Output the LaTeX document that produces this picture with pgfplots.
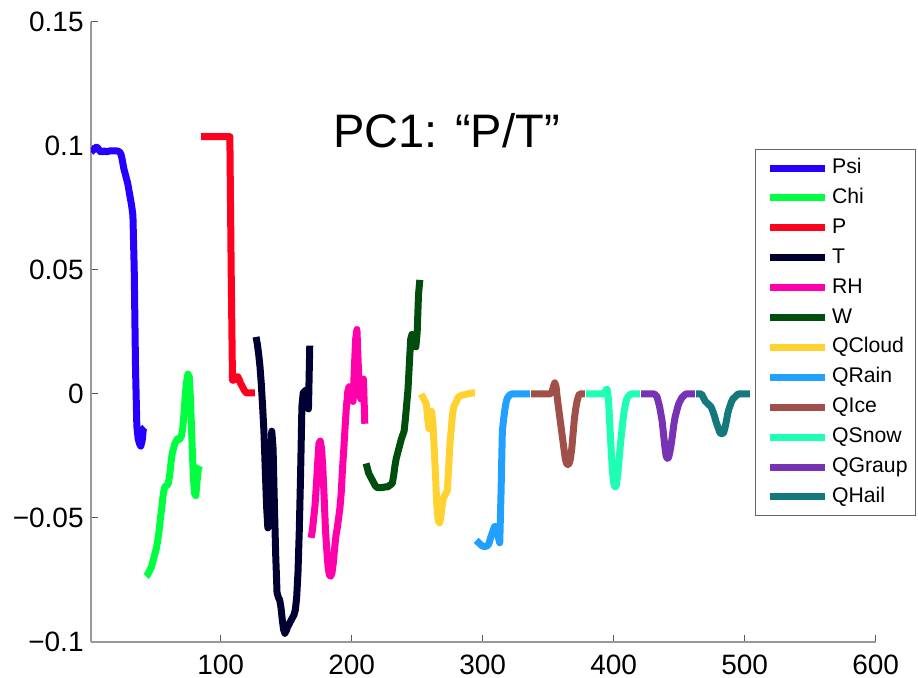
\documentclass[border=0pt]{standalone}
\usepackage{fontspec}
\setmainfont{Liberation Sans}
\usepackage{pgfplots}
\pgfplotsset{compat=1.18}
\definecolor{cPsi}{RGB}{38,0,255}
\definecolor{cChi}{RGB}{0,255,64}
\definecolor{cP}{RGB}{255,0,30}
\definecolor{cT}{RGB}{0,0,51}
\definecolor{cRH}{RGB}{255,0,170}
\definecolor{cW}{RGB}{0,77,13}
\definecolor{cQC}{RGB}{255,210,50}
\definecolor{cQR}{RGB}{33,160,255}
\definecolor{cQI}{RGB}{160,80,75}
\definecolor{cQS}{RGB}{30,255,180}
\definecolor{cQG}{RGB}{120,50,180}
\definecolor{cQH}{RGB}{20,120,125}
\begin{document}
\begin{tikzpicture}
\begin{axis}[
  at={(0pt,0pt)}, anchor=south west,
  scale only axis, width=392.35pt, height=310pt,
  xmin=1, xmax=600, ymin=-0.1, ymax=0.15,
  axis x line*=bottom, axis y line*=left,
  axis line style={draw=black!40, line width=0.6pt},
  tick align=inside, major tick length=3.5pt,
  tick style={draw=black!65, line width=0.5pt},
  xtick={100,200,300,400,500,600},
  xticklabels={100,200,300,400,500,600},
  ytick={-0.1,-0.05,0,0.05,0.1,0.15},
  yticklabels={−0.1,−0.05,0,0.05,0.1,0.15},
  scaled y ticks=false,
  x tick label style={font=\fontsize{14}{16}\selectfont, inner sep=0pt, anchor=north, yshift=-6.5pt},
  y tick label style={font=\fontsize{14}{16}\selectfont, inner sep=0pt, anchor=east, xshift=-3.5pt},
  every axis plot/.append style={line width=3.5pt, line join=round, line cap=butt},
  legend cell align=left,
  legend image code/.code={\path (0pt,0pt); \draw[#1, line width=3.5pt] (3.5pt,0pt) -- (31pt,0pt);},
  legend style={at={(1.0514,0.795)}, anchor=north east, draw=black!60, line width=0.5pt,
    font=\fontsize{10.6}{13}\selectfont, inner xsep=2pt, inner ysep=2pt, row sep=0.45pt,
    nodes={text height=8pt, text depth=2.5pt, inner sep=2pt}},
]
% Psi
\addplot[color=cPsi] coordinates {
(1,0.0975)(2,0.098)(3,0.0985)(4,0.099)(5,0.0995)(6,0.0993)(7,0.0985)(8,0.0978)(9,0.0975)(10,0.0978)
(11,0.098)(12,0.0978)(13,0.0977)(14,0.0978)(15,0.098)(16,0.098)(17,0.098)(18,0.098)(19,0.098)(20,0.098)
(21,0.098)(22,0.0978)(23,0.0975)(24,0.0965)(25,0.094)(26,0.091)(27,0.089)(28,0.087)(29,0.085)(30,0.082)
(31,0.079)(32,0.076)(33,0.072)(34,0.05)(35,0.01)(36,-0.013)(37,-0.018)(38,-0.02)(39,-0.021)(40,-0.019)
(41,-0.014)(42,-0.0135)};
\addlegendentry{Psi}
% Chi
\addplot[color=cChi] coordinates {
(43,-0.0735)(44,-0.073)(45,-0.072)(46,-0.071)(47,-0.070)(48,-0.068)(49,-0.066)(50,-0.064)(51,-0.062)(52,-0.059)
(53,-0.055)(54,-0.050)(55,-0.046)(56,-0.041)(57,-0.038)(58,-0.037)(59,-0.037)(60,-0.036)(61,-0.033)(62,-0.028)
(63,-0.024)(64,-0.022)(65,-0.020)(66,-0.019)(67,-0.018)(68,-0.0185)(69,-0.018)(70,-0.017)(71,-0.014)(72,-0.008)
(73,0.000)(74,0.005)(75,0.008)(76,0.007)(77,-0.003)(78,-0.018)(79,-0.032)(80,-0.040)(81,-0.041)(82,-0.035)
(83,-0.030)(84,-0.029)};
\addlegendentry{Chi}
% P
\addplot[color=cP] coordinates {
(85,0.1038)(90,0.1038)(95,0.1038)(100,0.1038)(105,0.1038)(107,0.1038)(108,0.05)(109,0.0056)(110,0.0055)
(111,0.006)(112,0.0068)(113,0.007)(114,0.006)(115,0.0045)(116,0.0035)(117,0.0025)(118,0.0015)(119,0.0008)
(120,0.0004)(122,0.0004)(124,0.0004)(126,0.0004)};
\addlegendentry{P}
% T
\addplot[color=cT] coordinates {
(127,0.023)(128,0.020)(129,0.016)(130,0.011)(131,0.004)(132,-0.005)(133,-0.015)(134,-0.030)(135,-0.045)(136,-0.054)
(137,-0.052)(138,-0.030)(139,-0.015)(140,-0.022)(141,-0.045)(142,-0.065)(143,-0.080)(144,-0.082)(145,-0.083)(146,-0.086)
(147,-0.091)(148,-0.095)(149,-0.0965)(150,-0.0955)(151,-0.094)(152,-0.093)(153,-0.092)(154,-0.091)(155,-0.090)(156,-0.089)
(157,-0.087)(158,-0.082)(159,-0.072)(160,-0.055)(161,-0.032)(162,-0.005)(163,0.0005)(164,0.001)(165,0.0015)(166,-0.004)
(167,-0.006)(168,0.0195)};
\addlegendentry{T}
% RH
\addplot[color=cRH] coordinates {
(169,-0.058)(170,-0.055)(171,-0.050)(172,-0.045)(173,-0.037)(174,-0.028)(175,-0.020)(176,-0.019)(177,-0.022)(178,-0.030)
(179,-0.042)(180,-0.055)(181,-0.063)(182,-0.070)(183,-0.073)(184,-0.0735)(185,-0.072)(186,-0.068)(187,-0.062)(188,-0.057)
(189,-0.054)(190,-0.050)(191,-0.046)(192,-0.040)(193,-0.030)(194,-0.022)(195,-0.013)(196,-0.005)(197,0.001)(198,0.003)
(199,0.0025)(200,0.001)(201,-0.003)(202,0.010)(203,0.022)(204,0.026)(205,0.012)(206,0.000)(207,-0.002)(208,0.004)
(209,0.006)(210,-0.012)};
\addlegendentry{RH}
% W
\addplot[color=cW] coordinates {
(211,-0.028)(212,-0.030)(213,-0.032)(214,-0.033)(215,-0.034)(216,-0.035)(217,-0.036)(218,-0.037)(219,-0.0375)(220,-0.0378)
(221,-0.0378)(222,-0.0378)(223,-0.0377)(224,-0.0377)(225,-0.0375)(226,-0.0375)(227,-0.0375)(228,-0.0373)(229,-0.0368)(230,-0.0365)
(231,-0.036)(232,-0.033)(233,-0.029)(234,-0.026)(235,-0.024)(236,-0.022)(237,-0.020)(238,-0.018)(239,-0.0165)(240,-0.015)
(241,-0.010)(242,-0.004)(243,0.002)(244,0.012)(245,0.022)(246,0.024)(247,0.023)(248,0.021)(249,0.019)(250,0.025)
(251,0.040)(252,0.046)};
\addlegendentry{W}
% QCloud
\addplot[color=cQC] coordinates {
(253,0.000)(254,-0.001)(255,-0.002)(256,-0.003)(257,-0.004)(258,-0.010)(259,-0.014)(260,-0.010)(261,-0.007)(262,-0.012)
(263,-0.022)(264,-0.033)(265,-0.045)(266,-0.051)(267,-0.052)(268,-0.050)(269,-0.045)(270,-0.042)(271,-0.041)(272,-0.040)
(273,-0.039)(274,-0.030)(275,-0.020)(276,-0.014)(277,-0.008)(278,-0.005)(279,-0.004)(280,-0.003)(281,-0.0015)(282,-0.001)
(283,-0.0008)(284,-0.0005)(286,-0.0003)(288,0.0)(290,0.0002)(292,0.0004)(294,0.0004)};
\addlegendentry{QCloud}
% QRain
\addplot[color=cQR] coordinates {
(295,-0.059)(296,-0.0595)(297,-0.060)(298,-0.0605)(299,-0.061)(300,-0.0613)(301,-0.0615)(302,-0.0615)(303,-0.0613)(304,-0.061)
(305,-0.060)(306,-0.058)(307,-0.0565)(308,-0.055)(309,-0.0535)(310,-0.0535)(311,-0.055)(312,-0.058)(313,-0.060)(314,-0.040)
(315,-0.015)(316,-0.010)(317,-0.006)(318,-0.003)(319,-0.0015)(320,-0.0008)(321,-0.0003)(322,0)(326,0)(330,0)(336,0)};
\addlegendentry{QRain}
% QIce
\addplot[color=cQI] coordinates {
(337,0)(341,0)(345,0)(349,0)(351,0)(352,0.0003)(353,0.001)(354,0.003)(355,0.0045)(356,0.003)(357,-0.002)(358,-0.006)
(359,-0.010)(360,-0.014)(361,-0.018)(362,-0.022)(363,-0.026)(364,-0.028)(365,-0.0285)(366,-0.028)(367,-0.026)(368,-0.022)
(369,-0.016)(370,-0.010)(371,-0.006)(372,-0.003)(373,-0.001)(374,0)(376,0)(378,0)};
\addlegendentry{QIce}
% QSnow
\addplot[color=cQS] coordinates {
(379,0)(383,0)(387,0)(391,0)(392,0)(393,0.0005)(394,0.0015)(395,0.002)(396,-0.002)(397,-0.012)(398,-0.022)(399,-0.031)
(400,-0.036)(401,-0.0375)(402,-0.037)(403,-0.033)(404,-0.027)(405,-0.021)(406,-0.016)(407,-0.011)(408,-0.007)(409,-0.004)
(410,-0.002)(411,-0.001)(412,-0.0005)(413,0)(416,0)(420,0)};
\addlegendentry{QSnow}
% QGraup
\addplot[color=cQG] coordinates {
(421,0)(425,0)(429,0)(431,0)(432,-0.0005)(433,-0.001)(434,-0.003)(435,-0.005)(436,-0.008)(437,-0.011)(438,-0.016)
(439,-0.021)(440,-0.025)(441,-0.026)(442,-0.0255)(443,-0.023)(444,-0.020)(445,-0.016)(446,-0.012)(447,-0.009)(448,-0.007)
(449,-0.005)(450,-0.0035)(451,-0.0025)(452,-0.0015)(453,-0.001)(454,-0.0005)(455,0)(458,0)(462,0)};
\addlegendentry{QGraup}
% QHail
\addplot[color=cQH] coordinates {
(463,0)(465,0)(467,0)(468,-0.001)(469,-0.002)(470,-0.003)(471,-0.0035)(472,-0.004)(473,-0.0045)(474,-0.005)(475,-0.006)
(476,-0.0075)(477,-0.009)(478,-0.011)(479,-0.0125)(480,-0.014)(481,-0.0155)(482,-0.016)(483,-0.016)(484,-0.0155)(485,-0.0135)
(486,-0.011)(487,-0.008)(488,-0.006)(489,-0.0045)(490,-0.003)(491,-0.002)(492,-0.0015)(493,-0.001)(494,-0.0005)(495,0)
(498,0)(501,0)(504,0)};
\addlegendentry{QHail}
\node[anchor=base west, inner sep=0pt, font=\fontsize{23.5}{26}\selectfont] at (axis cs:185.7,0.0992) {PC1: “P/T”};
\end{axis}
\pgfresetboundingbox
\path (-45.5pt,-18pt) rectangle (413.5pt,321pt);
\end{tikzpicture}
\end{document}
